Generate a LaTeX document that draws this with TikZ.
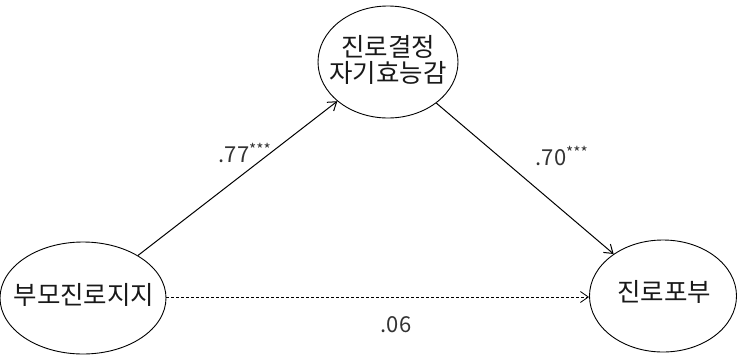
\documentclass[tikz,border=0pt]{standalone}
\usepackage{fontspec}
\setmainfont{Noto Sans CJK KR}
\usetikzlibrary{arrows.meta,shapes.geometric}
\begin{document}
\begin{tikzpicture}[x=1pt,y=-1pt,
  var/.style={draw, ellipse, line width=0.9pt, inner sep=0pt},
  conn/.style={draw, line width=1pt, -{Straight Barb[length=8pt,width=11pt]}},
  lab/.style={font=\fontsize{22}{24}\selectfont, text=black!80},
  txt/.style={font=\fontsize{25.5}{28}\selectfont, align=center, text=black!90}]
\useasboundingbox (0,0) rectangle (739,357);
\node[var, minimum width=166pt, minimum height=112pt] (x) at (83,298) {};
\node[txt] (xt) at (84,295) {부모진로지지};
\node[var, minimum width=140pt, minimum height=112pt] (m) at (388,62) {};
\node[txt] (mt) at (388,60) {진로결정\\[-2pt]자기효능감};
\node[var, minimum width=147pt, minimum height=112pt] (y) at (663,296) {};
\node[txt] (yt) at (664,292) {진로포부};
\draw[conn] (x) -- (m);
\draw[conn] (m) -- (y);
\draw[conn, dash pattern=on 3pt off 2pt, line width=0.8pt] (x.east |- 0,297) -- (y.west |- 0,297);
\node[lab] (l1) at (245,153) {.77\textsuperscript{***}};
\node[lab] (l2) at (562,156) {.70\textsuperscript{***}};
\node[lab] (l3) at (396,325) {.06};
\end{tikzpicture}
\end{document}
